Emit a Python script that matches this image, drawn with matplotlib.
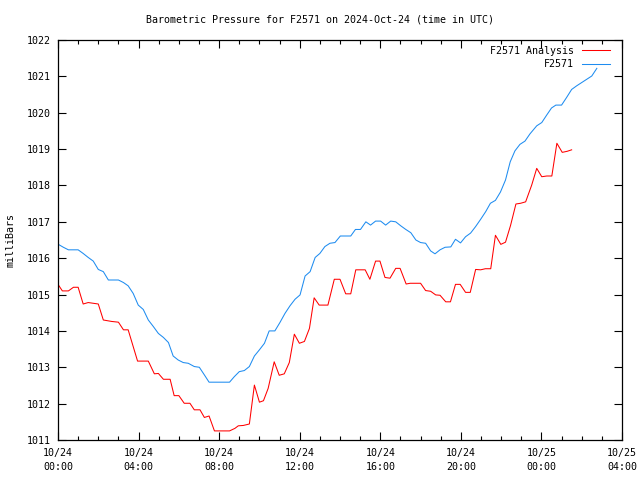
import matplotlib
matplotlib.use("Agg")
import matplotlib.pyplot as plt
import numpy as np

# times in minutes after 2024-10-24 00:00 UTC
analysis_times = [0, 13, 31, 46, 60, 75, 90, 120, 135, 160, 180, 195, 209, 237, 269, 287, 299, 314, 334, 346,
                  360, 376, 393, 406, 423, 436, 450, 466, 511, 527, 537, 552, 570, 585, 600, 612, 626, 644, 659, 674,
                  689, 704, 719, 734, 749, 763, 778, 804, 823, 840, 857, 872, 887, 915, 929, 946, 959, 974, 989, 1006,
                  1019, 1037, 1049, 1080, 1095, 1110, 1125, 1138, 1155, 1169, 1184, 1198, 1214, 1228, 1244, 1259, 1273, 1289, 1303, 1319,
                  1333, 1348, 1364, 1378, 1393, 1411, 1426, 1441, 1456, 1471, 1486, 1502, 1517, 1530]
analysis_values = [1015.28, 1015.10, 1015.10, 1015.20, 1015.20, 1014.74, 1014.78, 1014.74, 1014.30, 1014.26,
                   1014.24, 1014.03, 1014.03, 1013.17, 1013.17, 1012.82, 1012.83, 1012.67, 1012.67, 1012.22,
                   1012.22, 1012.01, 1012.01, 1011.83, 1011.83, 1011.62, 1011.66, 1011.25, 1011.25, 1011.32,
                   1011.39, 1011.40, 1011.44, 1012.51, 1012.04, 1012.08, 1012.42, 1013.15, 1012.78, 1012.82,
                   1013.13, 1013.91, 1013.66, 1013.71, 1014.07, 1014.91, 1014.71, 1014.71, 1015.42, 1015.42,
                   1015.02, 1015.02, 1015.68, 1015.68, 1015.42, 1015.92, 1015.92, 1015.47, 1015.45, 1015.72,
                   1015.72, 1015.29, 1015.31, 1015.31, 1015.11, 1015.09, 1014.99, 1014.98, 1014.80, 1014.80,
                   1015.28, 1015.28, 1015.06, 1015.06, 1015.69, 1015.68, 1015.71, 1015.71, 1016.63, 1016.38,
                   1016.44, 1016.90, 1017.49, 1017.51, 1017.55, 1018.01, 1018.47, 1018.24, 1018.26, 1018.26,
                   1019.16, 1018.91, 1018.94, 1018.98]

station_times = [1, 16, 31, 60, 75, 90, 105, 120, 135, 150, 180, 195, 209, 224, 239, 254, 269, 284, 299, 314,
                 329, 343, 358, 373, 388, 406, 421, 436, 450, 511, 525, 540, 555, 570, 585, 600, 615, 629, 646, 661,
                 676, 691, 706, 721, 736, 751, 766, 780, 795, 810, 825, 841, 872, 886, 901, 917, 931, 946, 961, 976,
                 991, 1006, 1021, 1036, 1051, 1066, 1080, 1095, 1110, 1123, 1138, 1153, 1170, 1184, 1199, 1214, 1229, 1244, 1259, 1274,
                 1288, 1303, 1318, 1333, 1347, 1361, 1376, 1391, 1406, 1426, 1441, 1456, 1470, 1483, 1500, 1515,
                 1530, 1545, 1560, 1575, 1590, 1605]
station_values = [1016.38, 1016.30, 1016.23, 1016.23, 1016.13, 1016.02, 1015.92, 1015.69, 1015.63, 1015.40,
                  1015.40, 1015.33, 1015.24, 1015.03, 1014.71, 1014.59, 1014.30, 1014.12, 1013.93, 1013.82,
                  1013.68, 1013.31, 1013.20, 1013.13, 1013.11, 1013.02, 1013.00, 1012.79, 1012.59, 1012.59,
                  1012.74, 1012.88, 1012.91, 1013.02, 1013.31, 1013.48, 1013.66, 1014.00, 1014.00, 1014.23,
                  1014.48, 1014.69, 1014.87, 1014.99, 1015.51, 1015.63, 1016.02, 1016.13, 1016.32, 1016.41,
                  1016.43, 1016.61, 1016.61, 1016.79, 1016.79, 1017.00, 1016.91, 1017.02, 1017.02, 1016.91,
                  1017.02, 1017.00, 1016.89, 1016.79, 1016.70, 1016.50, 1016.43, 1016.41, 1016.20, 1016.12,
                  1016.23, 1016.30, 1016.31, 1016.52, 1016.42, 1016.59, 1016.69, 1016.87, 1017.07, 1017.28,
                  1017.51, 1017.59, 1017.82, 1018.15, 1018.65, 1018.95, 1019.13, 1019.22, 1019.42, 1019.64,
                  1019.73, 1019.94, 1020.13, 1020.21, 1020.21, 1020.42, 1020.64, 1020.74, 1020.83, 1020.92,
                  1021.01, 1021.22]

xtick_hours = [0, 4, 8, 12, 16, 20, 24, 28]
xtick_labels = ["10/24\n00:00", "10/24\n04:00", "10/24\n08:00", "10/24\n12:00",
                "10/24\n16:00", "10/24\n20:00", "10/25\n00:00", "10/25\n04:00"]
ytick_values = list(range(1011, 1023))

FONT = "DejaVu Sans Mono"
FS = 7.2

fig = plt.figure(figsize=(6.4, 4.8), dpi=100)
ax = fig.add_axes([58/640, 40/480, (622-58)/640, 400/480])

ax.plot(np.array(analysis_times)/60.0, analysis_values, color="#ff0000", lw=0.75, label="F2571 Analysis")
ax.plot(np.array(station_times)/60.0, station_values, color="#1e8cf0", lw=0.75, label="F2571")

ax.set_xlim(0, 28)
ax.set_ylim(1011, 1022)
ax.set_xticks(xtick_hours)
ax.set_xticklabels(xtick_labels, fontfamily=FONT, fontsize=FS, linespacing=1.4)
ax.set_xticks(np.arange(0, 29, 1), minor=True)
ax.set_yticks(ytick_values)
ax.set_yticklabels([str(v) for v in ytick_values], fontfamily=FONT, fontsize=FS)

ax.tick_params(which="both", direction="in", top=True, right=True, width=0.8)
ax.tick_params(which="major", length=6)
ax.tick_params(axis="x", which="major", pad=6)
ax.tick_params(axis="y", which="major", pad=5)
ax.tick_params(which="minor", length=3)
for s in ax.spines.values():
    s.set_linewidth(0.9)

ax.set_ylabel("milliBars", fontfamily=FONT, fontsize=FS, labelpad=8)
fig.text(0.5, 1 - 20/480, "Barometric Pressure for F2571 on 2024-Oct-24 (time in UTC)",
         ha="center", va="center", fontfamily=FONT, fontsize=FS)

leg = ax.legend(loc="upper right", frameon=False, markerfirst=False,
                bbox_to_anchor=((610 - 58) / 564, 1 - 6 / 400),
                prop={"family": FONT, "size": FS}, handlelength=2.8,
                handletextpad=0.8, labelspacing=0.35, borderaxespad=0.0, borderpad=0.0)
for t in leg.get_texts():
    t.set_ha("right")

fig.savefig("out.png", dpi=100)
